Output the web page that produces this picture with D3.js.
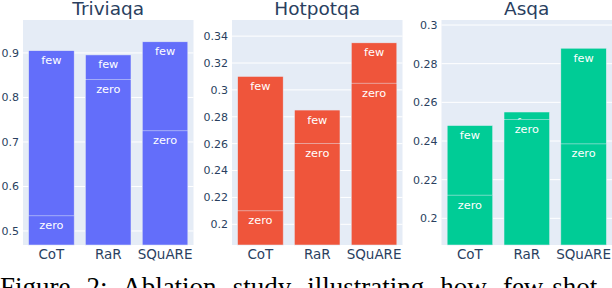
<!DOCTYPE html>
<html>
<head>
<meta charset="utf-8">
<script src="https://cdn.jsdelivr.net/npm/d3@7"></script>
<style>
  body { margin: 0; background: #fff; }
  svg { display: block; }
</style>
</head>
<body>
<svg></svg>
<script>
var methods = ['CoT', 'RaR', 'SQuARE'];
var datasets = ['Triviaqa', 'Hotpotqa', 'Asqa'];
var colors = ['#636efa', '#ef553b', '#00cc96'];

// few-shot and zero-shot scores, one array per dataset
var fewTriviaqa = [0.905, 0.8955, 0.925];
var zeroTriviaqa = [0.534, 0.84, 0.725];
var fewHotpotqa = [0.31, 0.285, 0.335];
var zeroHotpotqa = [0.21, 0.26, 0.305];
var fewAsqa = [0.248, 0.255, 0.288];
var zeroAsqa = [0.212, 0.251, 0.2385];

// y ranges and ticks
var yDomains = [[0.4685, 0.974], [0.1846, 0.352], [0.1862, 0.3026]];
var yTicks = [
  [0.5, 0.6, 0.7, 0.8, 0.9],
  [0.2, 0.22, 0.24, 0.26, 0.28, 0.3, 0.32, 0.34],
  [0.2, 0.22, 0.24, 0.26, 0.28, 0.3]
];

var fewAll = [fewTriviaqa, fewHotpotqa, fewAsqa];
var zeroAll = [zeroTriviaqa, zeroHotpotqa, zeroAsqa];

var width = 612;
var height = 288;
var svg = d3.select('svg')
  .attr('width', width)
  .attr('height', height);

var font = '"DejaVu Sans", Verdana, sans-serif';
var panelLeft = [23, 232, 441.5];
var panelWidth = 170.5;
var plotTop = 20, plotBottom = 245;

datasets.forEach(function(name, k) {
  var x0 = panelLeft[k];
  var g = svg.append('g');

  var x = d3.scaleBand()
    .domain(methods)
    .range([x0, x0 + panelWidth])
    .paddingInner(0.2)
    .paddingOuter(0.1);

  var y = d3.scaleLinear()
    .domain(yDomains[k])
    .range([plotBottom, plotTop]);

  g.append('rect')
    .attr('x', x0)
    .attr('y', plotTop)
    .attr('width', panelWidth)
    .attr('height', plotBottom - plotTop)
    .attr('fill', '#e5ecf6');

  // gridlines
  g.selectAll('.grid')
    .data(yTicks[k])
    .enter()
    .append('line')
      .attr('x1', x0)
      .attr('x2', x0 + panelWidth)
      .attr('y1', d => y(d))
      .attr('y2', d => y(d))
      .attr('stroke', '#fff')
      .attr('stroke-width', 1);

  var fmt = d3.format('~g');
  g.selectAll('.ytick')
    .data(yTicks[k])
    .enter()
    .append('text')
      .attr('x', x0 - 4)
      .attr('y', d => y(d))
      .attr('dy', '0.35em')
      .attr('text-anchor', 'end')
      .attr('font-family', font)
      .attr('font-size', 11)
      .attr('fill', '#2a3f5f')
      .text(d => fmt(d));

  // overlay bars: few first, zero on top
  [['few', fewAll[k]], ['zero', zeroAll[k]]].forEach(function(s) {
    var label = s[0];
    var vals = s[1];
    var bars = g.selectAll('.bar-' + label)
      .data(methods)
      .enter()
      .append('g');

    bars.append('rect')
      .attr('x', d => x(d))
      .attr('y', (d, i) => y(vals[i]))
      .attr('width', x.bandwidth())
      .attr('height', (d, i) => plotBottom - y(vals[i]))
      .attr('fill', colors[k])
      .attr('stroke', '#e5ecf6')
      .attr('stroke-width', 0.5);

    bars.append('text')
      .attr('x', d => x(d) + x.bandwidth() / 2)
      .attr('y', (d, i) => y(vals[i]) + 13.5)
      .attr('text-anchor', 'middle')
      .attr('font-family', font)
      .attr('font-size', 11.3)
      .attr('fill', '#fff')
      .text(label);
  });

  g.selectAll('.xtick')
    .data(methods)
    .enter()
    .append('text')
      .attr('x', d => x(d) + x.bandwidth() / 2)
      .attr('y', 259)
      .attr('text-anchor', 'middle')
      .attr('font-family', font)
      .attr('font-size', 13.5)
      .attr('fill', '#2a3f5f')
      .text(d => d);

  g.append('text')
    .attr('x', x0 + panelWidth / 2)
    .attr('y', 15)
    .attr('text-anchor', 'middle')
    .attr('font-family', font)
    .attr('font-size', 18.5)
    .attr('fill', '#2a3f5f')
    .text(name);
});

// caption, cut off by the page edge
var caption = svg.append('text')
  .attr('x', 0)
  .attr('y', 296)
  .attr('font-family', '"Liberation Serif", "Times New Roman", serif')
  .attr('font-size', 27)
  .attr('fill', '#000')
  .text('Figure 2:  Ablation study illustrating how few-shot');
var natural = caption.node().getComputedTextLength();
caption.attr('word-spacing', (616 - natural) / 8);
</script>
</body>
</html>
